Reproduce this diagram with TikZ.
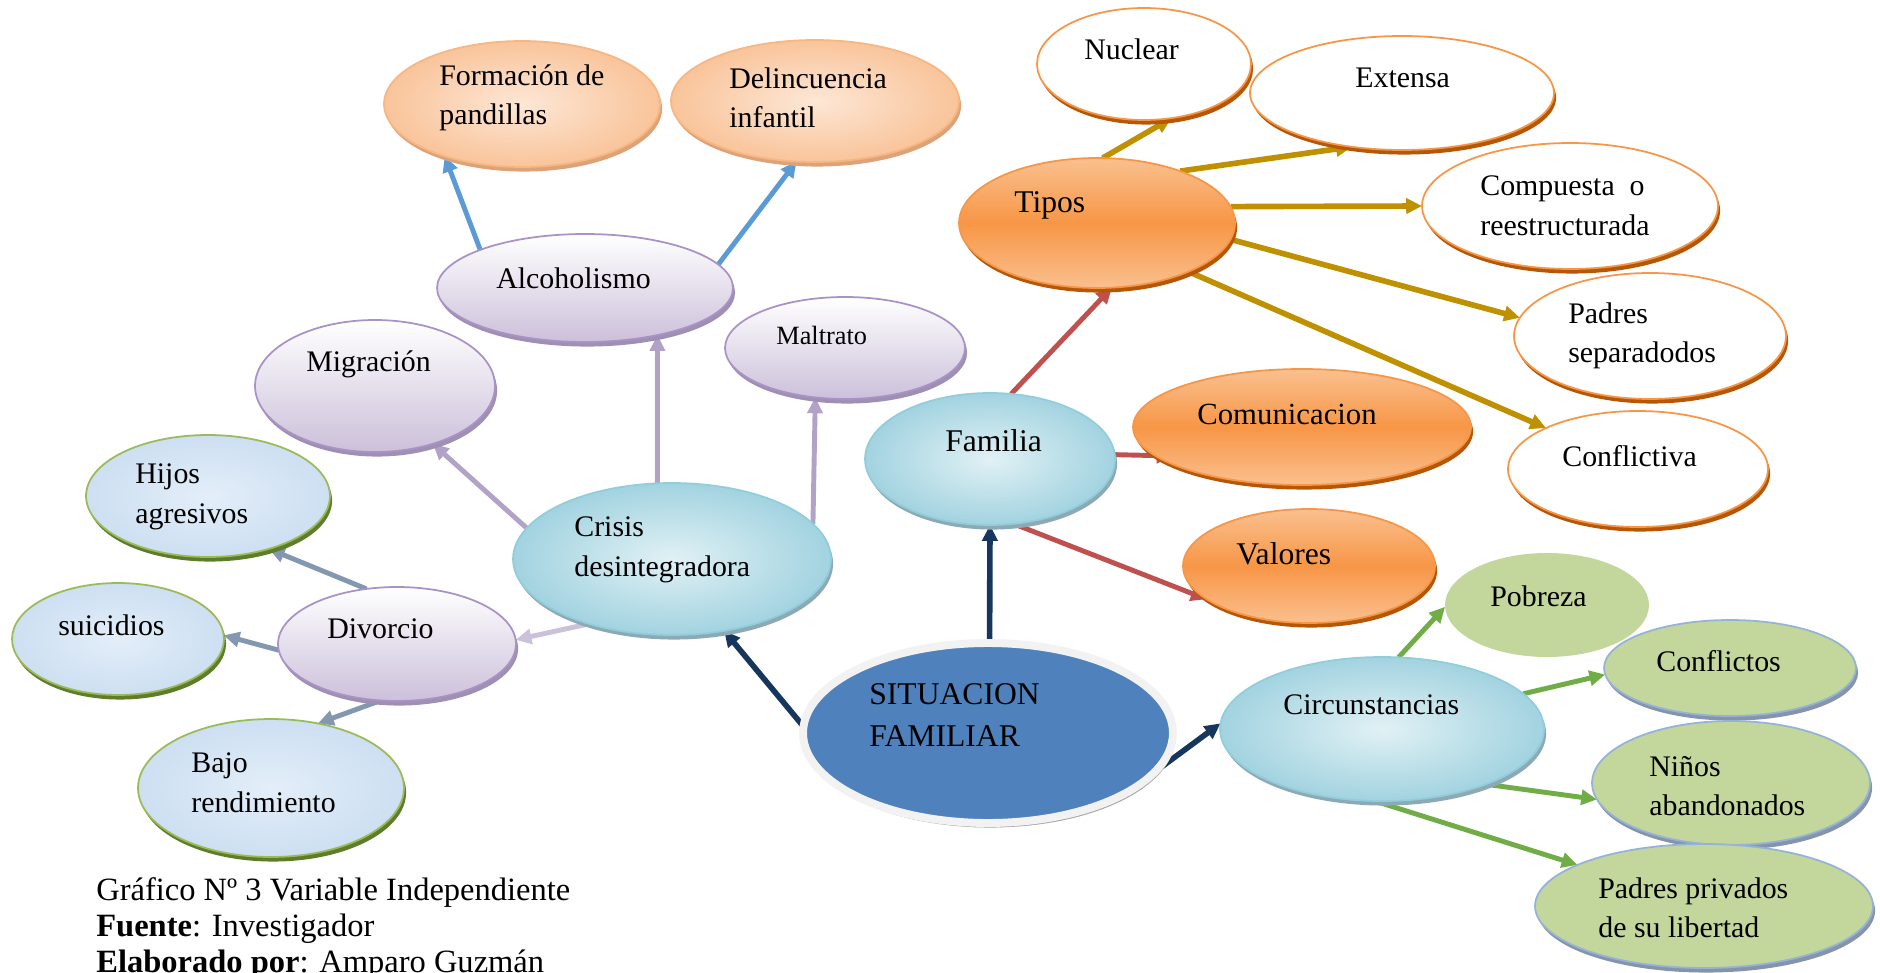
\documentclass[tikz,border=0pt]{standalone}
\usepackage{fontspec}
\setmainfont{Liberation Serif}
\usetikzlibrary{arrows.meta,shadows,shapes.geometric}
\pgfdeclarelayer{bg}
\pgfsetlayers{bg,main}

\definecolor{peachM}{HTML}{F9C49A}
\definecolor{peachL}{HTML}{FDE7D6}
\definecolor{peachD}{HTML}{F6B783}
\definecolor{peachS}{HTML}{DDA276}
\definecolor{purpL}{HTML}{CCC0DA}
\definecolor{purpD}{HTML}{A993C6}
\definecolor{purpS}{HTML}{9F8FB3}
\definecolor{frostL}{HTML}{E3EEF9}
\definecolor{frostM}{HTML}{CDDFF2}
\definecolor{leafD}{HTML}{9BBB59}
\definecolor{leafS}{HTML}{5E7D2B}
\definecolor{aquaL}{HTML}{E1F1F5}
\definecolor{aquaM}{HTML}{A2D3E0}
\definecolor{aquaD}{HTML}{92CDDC}
\definecolor{aquaS}{HTML}{8CAAB5}
\definecolor{orngL}{HTML}{FAC08F}
\definecolor{orngM}{HTML}{F79646}
\definecolor{orngS}{HTML}{B65708}
\definecolor{coreB}{HTML}{4F81BD}
\definecolor{sageL}{HTML}{C3D69B}
\definecolor{sageD}{HTML}{95B3D7}
\definecolor{sageS}{HTML}{8594AA}
\definecolor{skyA}{HTML}{5B9BD5}
\definecolor{lilacA}{HTML}{B3A2C7}
\definecolor{paleA}{HTML}{CCC1DA}
\definecolor{slateA}{HTML}{8497B0}
\definecolor{navyA}{HTML}{17365D}
\definecolor{redA}{HTML}{C0504D}
\definecolor{goldA}{HTML}{BF9000}
\definecolor{greenA}{HTML}{70AD47}

\begin{document}
\begin{tikzpicture}[x=0.02cm,y=-0.02cm,
    bub/.style={ellipse, inner sep=0pt, outer sep=0pt, line width=1pt},
    shad/.style={drop shadow={fill=#1, opacity=1, shadow xshift=1.2pt, shadow yshift=-2.6pt}},
    peach/.style={bub, draw=peachD, inner color=peachL, outer color=peachM, shad=peachS},
    purp/.style={bub, draw=purpD, top color=white, bottom color=purpL, shad=purpS},
    frost/.style={bub, draw=leafD, inner color=frostL, outer color=frostM, shad=leafS},
    aqua/.style={bub, draw=aquaD, inner color=aquaL, outer color=aquaM, shad=aquaS},
    orng/.style={bub, draw=orngM, top color=orngL, bottom color=orngL, middle color=orngM, shad=orngS},
    oline/.style={bub, draw=orngM, fill=white, shad=orngS},
    sage/.style={bub, fill=sageL},
    sageb/.style={bub, draw=sageD, fill=sageL, shad=sageS},
    core/.style={bub, draw=black!5, line width=4.5pt, fill=coreB, shad=black!35},
    txt/.style={anchor=west, align=left, inner sep=0pt, font=\fontsize{17}{22.5}\selectfont},
    big/.style={txt, font=\fontsize{18}{24}\selectfont},
    captxt/.style={anchor=west, inner sep=0pt, font=\fontsize{18.5}{21}\selectfont},
    arr/.style={line width=2.8pt, -{Triangle[length=9pt,width=8.5pt]}}]

\useasboundingbox (0,0) rectangle (1880,973);
\clip (0,0) rectangle (1880,973);

% left branch
\node[peach, minimum width=5.52cm, minimum height=2.52cm] (form) at (522,104) {};
\node[peach, minimum width=5.76cm, minimum height=2.44cm] (delin) at (815,101) {};
\node[purp, minimum width=5.92cm, minimum height=2.16cm] (alc) at (585,288) {};
\node[purp, minimum width=4.80cm, minimum height=2.64cm] (migr) at (375,386) {};
\node[purp, minimum width=4.80cm, minimum height=2.04cm] (maltr) at (845,348) {};
\node[frost, minimum width=4.88cm, minimum height=2.44cm] (hijos) at (208,496) {};
\node[aqua, minimum width=6.36cm, minimum height=3.04cm] (crisis) at (672,559) {};
\node[frost, minimum width=4.24cm, minimum height=2.24cm] (suic) at (118,639) {};
\node[purp, minimum width=4.76cm, minimum height=2.28cm] (divor) at (397,644) {};
\node[frost, minimum width=5.32cm, minimum height=2.76cm] (bajo) at (271,788) {};

% centre
\node[core, minimum width=7.40cm, minimum height=3.60cm] (sit) at (988,733) {};
\node[aqua, minimum width=5.00cm, minimum height=2.64cm] (fam) at (990,459) {};

% tipos branch
\node[orng, minimum width=5.52cm, minimum height=2.60cm] (tipos) at (1097,223) {};
\node[oline, minimum width=4.28cm, minimum height=2.24cm] (nucl) at (1144,64) {};
\node[oline, minimum width=6.08cm, minimum height=2.28cm] (ext) at (1402,93) {};
\node[oline, minimum width=5.92cm, minimum height=2.52cm] (comp) at (1570,206) {};
\node[oline, minimum width=5.44cm, minimum height=2.52cm] (psep) at (1650,336) {};
\node[orng, minimum width=6.76cm, minimum height=2.32cm] (comu) at (1302,427) {};
\node[oline, minimum width=5.20cm, minimum height=2.32cm] (confl) at (1638,469) {};
\node[orng, minimum width=5.04cm, minimum height=2.28cm] (val) at (1309,566) {};

% circunstancias branch
\node[sage, minimum width=4.08cm, minimum height=2.08cm] (pobr) at (1547,605) {};
\node[aqua, minimum width=6.48cm, minimum height=2.88cm] (circ) at (1382,729) {};
\node[sageb, minimum width=5.04cm, minimum height=1.92cm] (conflos) at (1730,668) {};
\node[sageb, minimum width=5.56cm, minimum height=2.48cm] (ninos) at (1731,783) {};
\node[sageb, minimum width=6.76cm, minimum height=2.48cm] (ppriv) at (1704,906) {};

% texts
\node[txt] (form-t) at (439,98) {Formación de\\pandillas};
\node[txt] (delin-t) at (729,98) {Delincuencia\\infantil};
\node[txt] (alc-t) at (496,278) {Alcoholismo};
\node[txt] (migr-t) at (306,364) {Migración};
\node[txt, font=\fontsize{15}{18}\selectfont] (maltr-t) at (776,335) {Maltrato};
\node[txt] (hijos-t) at (135,497) {Hijos\\agresivos};
\node[txt] (crisis-t) at (574,550) {Crisis\\desintegradora};
\node[txt] (suic-t) at (58,625) {suicidios};
\node[txt] (divor-t) at (327,629) {Divorcio};
\node[txt] (bajo-t) at (191,783) {Bajo\\rendimiento};
\node[big] (sit-t) at (869,715) {SITUACION\\FAMILIAR};
\node[big] (fam-t) at (945,441) {Familia};
\node[big] (tipos-t) at (1014,205) {Tipos};
\node[txt] (nucl-t) at (1084,49) {Nuclear};
\node[txt] (ext-t) at (1355,78) {Extensa};
\node[txt] (comp-t) at (1480,206) {Compuesta~ o\\reestructurada};
\node[txt] (psep-t) at (1568,336) {Padres\\separadodos};
\node[big, font=\fontsize{17.5}{22}\selectfont] (comu-t) at (1197,414) {Comunicacion};
\node[txt] (confl-t) at (1562,456) {Conflictiva};
\node[big] (val-t) at (1236,554) {Valores};
\node[txt] (pobr-t) at (1490,596) {Pobreza};
\node[txt] (circ-t) at (1283,705) {Circunstancias};
\node[txt] (conflos-t) at (1656,661) {Conflictos};
\node[txt] (ninos-t) at (1649,786) {Niños\\abandonados};
\node[txt] (ppriv-t) at (1598,908) {Padres privados\\de su libertad};

% caption
\node[captxt] (cap1) at (96,893) {Gráfico Nº 3 Variable Independiente};
\node[captxt] (cap2) at (96,929) {\textbf{Fuente}: Investigador};
\node[captxt] (cap3) at (96,965) {\textbf{Elaborado por}: Amparo Guzmán};

\begin{pgfonlayer}{bg}
\draw[arr, skyA] (alc.160) -- (form.214);
\draw[arr, skyA] (alc.10) -- (delin.253);
\draw[arr, lilacA] (crisis.101) -- (alc.-33);
\draw[arr, lilacA] (crisis.168) -- (migr.-45);
\draw[arr, lilacA] (crisis.14) -- (maltr.239);
\draw[arr, paleA] (crisis.218) -- (divor.2);
\draw[arr, slateA] (divor.119) -- (hijos.-41);
\draw[arr, slateA] (divor.183) -- (suic.2);
\draw[arr, slateA] (divor.254) -- (bajo.54);
\draw[arr, navyA, line width=3.2pt] (sit.178) -- (crisis.-54);
\draw[arr, navyA, line width=3.2pt] (sit.89) -- (fam.270);
\draw[arr, navyA, line width=3.2pt] (sit.-23) -- (circ.178);
\draw[arr, redA] (fam.72) -- (tipos.-77);
\draw[arr, redA, shorten >=-10pt] (fam.2) -- (comu.191);
\draw[arr, redA] (fam.-70) -- (val.198);
\draw[arr, goldA, line width=3.2pt] (tipos.85) -- (nucl.-63);
\draw[arr, goldA, line width=3.2pt] (tipos.32) -- (ext.227);
\draw[arr, goldA, line width=3.2pt] (tipos.7.3) -- (comp.180);
\draw[arr, goldA, line width=3.2pt] (tipos.-7) -- (psep.172);
\draw[arr, goldA, line width=3.2pt] (tipos.-28) -- (confl.156);
\draw[arr, greenA] (circ.77) -- (pobr.181);
\draw[arr, greenA] (circ.14) -- (conflos.183);
\draw[arr, greenA] (circ.-28) -- (ninos.187);
\draw[arr, greenA] (circ.264) -- (ppriv.162);
\end{pgfonlayer}
\end{tikzpicture}
\end{document}
